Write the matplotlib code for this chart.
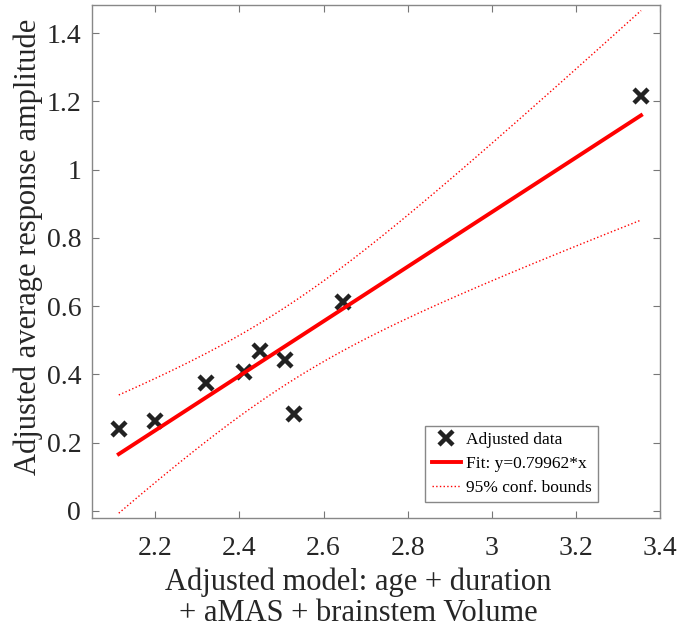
import numpy as np
import matplotlib
matplotlib.use("Agg")
import matplotlib.pyplot as plt

plt.rcParams.update({"font.family": ["Liberation Serif", "DejaVu Serif"], "mathtext.fontset": "stix"})

# adjusted data (added-variable plot)
x_adj = [2.113, 2.198, 2.321, 2.410, 2.449, 2.509, 2.529, 2.646, 3.355]
y_adj = [0.240, 0.262, 0.374, 0.408, 0.468, 0.443, 0.284, 0.611, 1.216]
slope = 0.79962
n_params = 5          # intercept + 4 predictors in the full model
t_crit = 2.7764       # t(0.975, df=4)

x = np.array(x_adj)
y = np.array(y_adj)
xm, ym = x.mean(), y.mean()
resid = y - (ym + slope * (x - xm))
s = np.sqrt(np.sum(resid ** 2) / (len(x) - n_params))
sxx = np.sum((x - xm) ** 2)

xf = np.linspace(x.min(), x.max(), 200)
yf = ym + slope * (xf - xm)
hw = t_crit * s * np.sqrt(1 / len(x) + (xf - xm) ** 2 / sxx)

fig = plt.figure(figsize=(6.83, 6.37), dpi=100)
ax = fig.add_axes([0.1351, 0.1863, 0.8312, 0.8054])

ax.plot(x, y, "x", color="#222222", ms=10, mew=3.2, label="Adjusted data")
ax.plot(xf, yf, "-", color="red", lw=2.8, label="Fit: y=0.79962*x")
ax.plot(xf, yf + hw, ":", color="red", lw=1.0, label="95% conf. bounds")
ax.plot(xf, yf - hw, ":", color="red", lw=1.0)

ax.set_xlim(2.05, 3.4)
ax.set_ylim(-0.022, 1.482)
ax.set_xticks([2.2, 2.4, 2.6, 2.8, 3.0, 3.2, 3.4])
ax.set_xticklabels(["2.2", "2.4", "2.6", "2.8", "3", "3.2", "3.4"])
ax.set_yticks([0, 0.2, 0.4, 0.6, 0.8, 1.0, 1.2, 1.4])
ax.set_yticklabels(["0", "0.2", "0.4", "0.6", "0.8", "1", "1.2", "1.4"])
ax.tick_params(direction="in", top=True, right=True, length=5, width=0.8,
               color="#777777", labelsize=20, labelcolor="#262626")
ax.tick_params(axis="x", pad=13)
ax.tick_params(axis="y", pad=8)
for sp in ax.spines.values():
    sp.set_color("#888888")
    sp.set_linewidth(1.0)

ax.set_xlabel("Adjusted model: age + duration\n+ aMAS + brainstem Volume",
              fontsize=22, color="#262626", linespacing=1.1)
ax.xaxis.set_label_coords(0.468, -0.096, transform=ax.transAxes)
ax.xaxis.label.set_va("top")
ax.set_ylabel("Adjusted average response amplitude", fontsize=22, color="#262626")
ax.yaxis.set_label_coords(-0.113, 0.53, transform=ax.transAxes)
ax.yaxis.label.set_va("center")

leg = ax.legend(loc="lower right", bbox_to_anchor=(0.891, 0.032), fontsize=12.5,
                fancybox=False, edgecolor="#888888", framealpha=1, handlelength=1.7,
                handletextpad=0.3, borderpad=0.35, labelspacing=0.45, borderaxespad=0)
leg.get_frame().set_linewidth(1.0)

fig.savefig("out.png", dpi=100)
